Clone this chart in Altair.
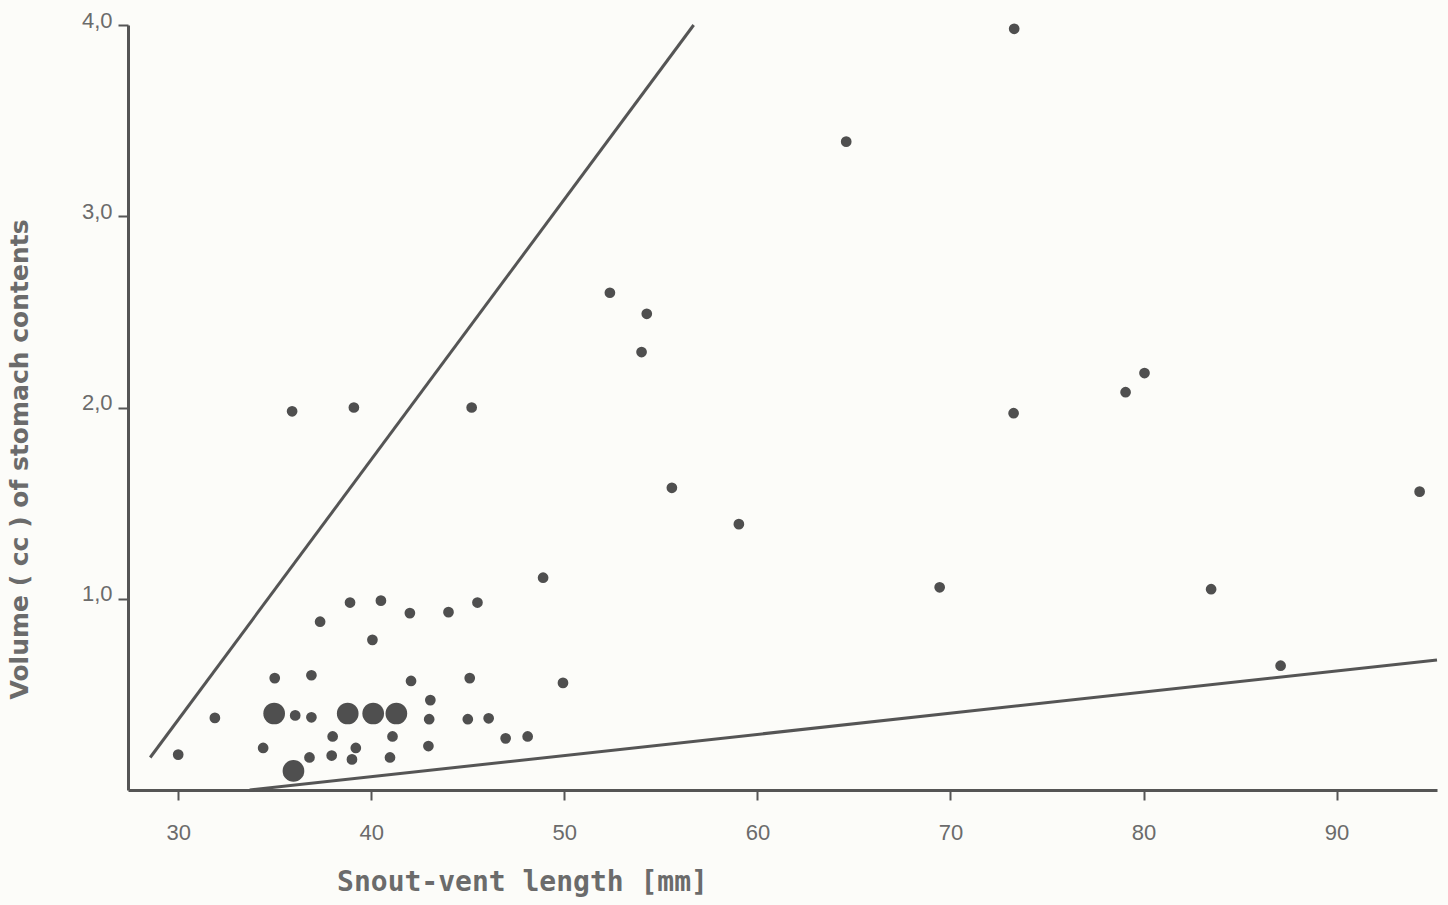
import altair as alt
import pandas as pd

# Snout-vent length (mm)
svl = [48.9, 38.9, 40.5, 37.35, 42.0, 44.0, 45.5, 40.06, 35.0, 36.9, 42.06, 45.1, 49.93,
       43.06, 34.97, 36.06, 36.9, 38.78, 40.1, 41.3, 43.0, 45.0, 46.08, 31.9, 30.0, 34.4,
       38.0, 41.1, 42.96, 46.96, 48.1, 39.2, 39.0, 37.95, 36.8, 40.97, 35.97,
       35.9, 39.1, 45.2, 52.36, 54.27, 54.0, 55.57, 59.04, 64.6, 73.3, 73.27, 69.44,
       79.07, 80.05, 83.5, 87.1, 94.3]
# Volume (cc) of stomach contents
vol = [1.11, 0.98, 0.99, 0.88, 0.925, 0.93, 0.98, 0.785, 0.585, 0.60, 0.57, 0.585, 0.56,
       0.47, 0.40, 0.39, 0.38, 0.40, 0.40, 0.40, 0.37, 0.37, 0.375, 0.377, 0.185, 0.22,
       0.28, 0.28, 0.23, 0.27, 0.28, 0.22, 0.16, 0.18, 0.17, 0.17, 0.10,
       1.98, 2.0, 2.0, 2.60, 2.49, 2.29, 1.58, 1.39, 3.39, 3.98, 1.97, 1.06,
       2.08, 2.18, 1.05, 0.65, 1.56]
# number of overlapping observations per dot
count = [1, 1, 1, 1, 1, 1, 1, 1, 1, 1, 1, 1, 1,
         1, 3, 1, 1, 3, 3, 3, 1, 1, 1, 1, 1, 1,
         1, 1, 1, 1, 1, 1, 1, 1, 1, 1, 3,
         1, 1, 1, 1, 1, 1, 1, 1, 1, 1, 1, 1,
         1, 1, 1, 1, 1]

# boundary lines (endpoints)
line_id = ["upper", "upper", "lower", "lower"]
line_x = [28.55, 56.7, 33.7, 95.2]
line_y = [0.17, 4.0, 0.0, 0.68]

pts = pd.DataFrame({"svl": svl, "vol": vol, "n": count})
lines = pd.DataFrame({"id": line_id, "svl": line_x, "vol": line_y})

ink = "#555555"
txt = "#6b6b6b"

xscale = alt.Scale(domain=[27.4, 95.2], nice=False, zero=False)
yscale = alt.Scale(domain=[0, 4.0], nice=False)

xaxis = alt.Axis(values=[30, 40, 50, 60, 70, 80, 90], grid=False, tickSize=10,
                 tickColor=ink, tickWidth=2, domainColor=ink, domainWidth=3,
                 labelPadding=22, labelFontSize=22, labelColor=txt, labelFont="Liberation Sans",
                 title="Snout\u2011vent  length  [mm]", titleFont="DejaVu Sans Mono",
                 titleFontSize=28, titleFontWeight="bold", titleColor=txt,
                 titleX=394, titleY=92, titleAlign="center", titleBaseline="middle")
yaxis = alt.Axis(values=[1, 2, 3, 4], grid=False, tickSize=10, tickColor=ink, tickWidth=2,
                 domainColor=ink, domainWidth=3, labelPadding=6, labelFontSize=22,
                 labelColor=txt, labelFont="Liberation Sans", labelBaseline="middle",
                 labelOffset=-5,
                 labelExpr="replace(format(datum.value, '.1f'), '.', ',')",
                 title="Volume ( cc ) of stomach contents", titleFont="DejaVu Sans",
                 titleFontSize=25, titleFontWeight="bold", titleColor=txt,
                 titleX=-109, titleY=434, titleAlign="center", titleBaseline="middle",
                 titleAngle=270)

points = alt.Chart(pts).mark_circle(color="#4f4f4f", opacity=1).encode(
    x=alt.X("svl:Q", scale=xscale, axis=xaxis),
    y=alt.Y("vol:Q", scale=yscale, axis=yaxis),
    size=alt.Size("n:Q", scale=alt.Scale(domain=[1, 3], range=[115, 470]), legend=None),
)

bound = alt.Chart(lines).mark_line(color=ink, strokeWidth=3).encode(
    x=alt.X("svl:Q", scale=xscale, axis=xaxis),
    y=alt.Y("vol:Q", scale=yscale, axis=yaxis),
    detail="id:N",
)

chart = (bound + points).properties(
    width=1309, height=765,
    autosize=alt.AutoSizeParams(type="none"),
    padding={"left": 128, "top": 25, "right": 11, "bottom": 115},
    background="#fcfcf9",
).configure_view(stroke=None).configure_axis(labelFontSize=22)

chart.save("out.html", embed_options={"renderer": "svg", "actions": False})
